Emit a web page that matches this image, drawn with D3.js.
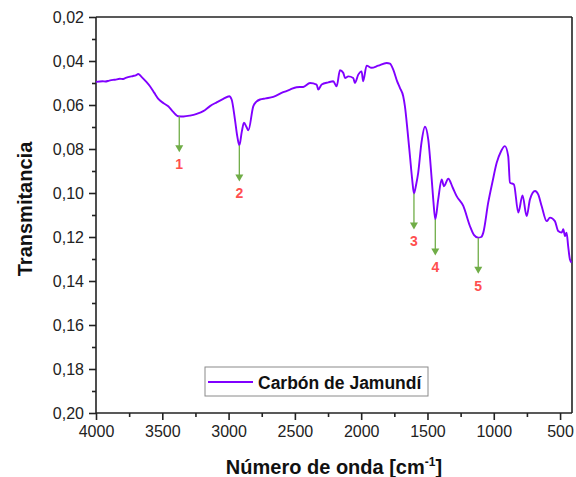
<!DOCTYPE html>
<html>
<head>
<meta charset="utf-8">
<script src="https://cdn.jsdelivr.net/npm/d3@7"></script>
<style>
  html, body { margin: 0; padding: 0; background: #fff; }
  svg { display: block; font-family: Arial, "Liberation Sans", sans-serif; }
</style>
</head>
<body>
<svg id="chart" width="576" height="477"></svg>
<script>
// ---- Data ----
const wavenumbers = [4000, 3950, 3930, 3900, 3870, 3857, 3820, 3800, 3780, 3750, 3720, 3700, 3681, 3660, 3640, 3620, 3593, 3560, 3530, 3490, 3455, 3420, 3379, 3340, 3291, 3240, 3191, 3140, 3090, 3040, 2995, 2977, 2952, 2935, 2919, 2900, 2884, 2865, 2851, 2814, 2790, 2763, 2720, 2663, 2588, 2537, 2487, 2437, 2386, 2336, 2324, 2298, 2248, 2211, 2185, 2160, 2135, 2122, 2097, 2060, 2047, 2022, 1997, 1985, 1959, 1922, 1871, 1808, 1783, 1758, 1730, 1708, 1683, 1670, 1650, 1632, 1615, 1602, 1585, 1570, 1545, 1519, 1494, 1468, 1455, 1441, 1419, 1393, 1376, 1343, 1310, 1280, 1230, 1180, 1150, 1117, 1095, 1079, 1042, 1010, 978, 945, 916, 891, 878, 848, 815, 783, 752, 727, 689, 665, 639, 601, 576, 539, 514, 488, 476, 463, 451, 439, 426, 413];
const transmittance = [0.0495, 0.0492, 0.0493, 0.0489, 0.0486, 0.0485, 0.0481, 0.0482, 0.0478, 0.0472, 0.0468, 0.0465, 0.0459, 0.0470, 0.0482, 0.0495, 0.0515, 0.0545, 0.0572, 0.0592, 0.0606, 0.0630, 0.0651, 0.0652, 0.0648, 0.0640, 0.0628, 0.0605, 0.0588, 0.0572, 0.0560, 0.0575, 0.0666, 0.0740, 0.0784, 0.0720, 0.0681, 0.0700, 0.0715, 0.0606, 0.0585, 0.0575, 0.0570, 0.0563, 0.0542, 0.0530, 0.0519, 0.0518, 0.0500, 0.0507, 0.0530, 0.0507, 0.0497, 0.0492, 0.0515, 0.0442, 0.0454, 0.0477, 0.0470, 0.0477, 0.0500, 0.0462, 0.0447, 0.0492, 0.0421, 0.0431, 0.0421, 0.0409, 0.0412, 0.0439, 0.0490, 0.0522, 0.0560, 0.0606, 0.0720, 0.0833, 0.0940, 0.1002, 0.0960, 0.0908, 0.0770, 0.0699, 0.0757, 0.0938, 0.1040, 0.1120, 0.1029, 0.0938, 0.0969, 0.0935, 0.0975, 0.1014, 0.1059, 0.1150, 0.1190, 0.1203, 0.1200, 0.1180, 0.1044, 0.0950, 0.0863, 0.0810, 0.0787, 0.0833, 0.0953, 0.0961, 0.1089, 0.1011, 0.1105, 0.1029, 0.0991, 0.1006, 0.1059, 0.1128, 0.1112, 0.1128, 0.1173, 0.1180, 0.1165, 0.1196, 0.1180, 0.1241, 0.1301, 0.1316];

const peakLabels = ["1", "2", "3", "4", "5"];
const peakWavenumbers = [3372, 2919, 1602, 1441, 1117];
const peakValues = [0.0651, 0.0784, 0.1002, 0.1120, 0.1203];

const xTicks = [4000, 3500, 3000, 2500, 2000, 1500, 1000, 500];
const xMinorTicks = [3750, 3250, 2750, 2250, 1750, 1250, 750];
const yTicks = [0.02, 0.04, 0.06, 0.08, 0.10, 0.12, 0.14, 0.16, 0.18, 0.20];
const yMinorTicks = [0.03, 0.05, 0.07, 0.09, 0.11, 0.13, 0.15, 0.17, 0.19];

const seriesName = "Carbón de Jamundí";
const yTitle = "Transmitancia";

// ---- Layout ----
const svg = d3.select("#chart");
const pLeft = 96, pRight = 572, pTop = 17, pBottom = 413;
const axisColor = "#222";
const lineColor = "#8000ff";
const arrowColor = "#70ad47";
const labelColor = "#ff4f4f";

const x = d3.scaleLinear().domain([4000, 410]).range([pLeft, pRight]);
const y = d3.scaleLinear().domain([0.02, 0.20]).range([pTop, pBottom]);

const fmt = d => d3.format(".2f")(d).replace(".", ",");

// Frame (top & right)
svg.append("line").attr("x1", pLeft).attr("x2", pRight).attr("y1", pTop).attr("y2", pTop)
  .attr("stroke", axisColor).attr("stroke-width", 1.6);
svg.append("line").attr("x1", pRight).attr("x2", pRight).attr("y1", pTop).attr("y2", pBottom)
  .attr("stroke", axisColor).attr("stroke-width", 1.6);

// Y axis
const yAxis = svg.append("g").attr("transform", `translate(${pLeft},0)`)
  .call(d3.axisLeft(y).tickValues(yTicks).tickFormat(fmt).tickSize(7).tickPadding(5));
const yMinor = svg.append("g").attr("transform", `translate(${pLeft},0)`)
  .call(d3.axisLeft(y).tickValues(yMinorTicks).tickFormat("").tickSize(4));

// X axis
const xAxis = svg.append("g").attr("transform", `translate(0,${pBottom})`)
  .call(d3.axisBottom(x).tickValues(xTicks).tickFormat(d3.format("d")).tickSize(7).tickPadding(6));
const xMinor = svg.append("g").attr("transform", `translate(0,${pBottom})`)
  .call(d3.axisBottom(x).tickValues(xMinorTicks).tickFormat("").tickSize(4));

[yAxis, yMinor, xAxis, xMinor].forEach(g => {
  g.selectAll(".domain").attr("stroke", axisColor).attr("stroke-width", 1.6);
  g.selectAll(".tick line").attr("stroke", axisColor).attr("stroke-width", 1.6);
  g.selectAll(".tick text").attr("fill", "#222").style("font-size", "16px")
    .style("font-family", "Arial, 'Liberation Sans', sans-serif");
});
yAxis.select(".domain").attr("d", `M0,${pTop}V${pBottom}`);
yMinor.select(".domain").remove();
xAxis.select(".domain").attr("d", `M${pLeft},0H${pRight}`);
xMinor.select(".domain").remove();

// Line
const pts = wavenumbers.map((w, i) => [w, transmittance[i]]);
svg.append("path").datum(pts)
  .attr("fill", "none").attr("stroke", lineColor).attr("stroke-width", 1.9)
  .attr("stroke-linejoin", "round")
  .attr("d", d3.line().curve(d3.curveMonotoneX).x(d => x(d[0])).y(d => y(d[1])));

// Peak arrows
const arrowLen = 36;
peakLabels.forEach((lab, i) => {
  const px = x(peakWavenumbers[i]);
  const py = y(peakValues[i]);
  const tip = py + arrowLen;
  svg.append("line").attr("x1", px).attr("x2", px).attr("y1", py).attr("y2", tip - 6)
    .attr("stroke", arrowColor).attr("stroke-width", 1.3);
  svg.append("path")
    .attr("d", `M${px - 4},${tip - 7}L${px + 4},${tip - 7}L${px},${tip}Z`)
    .attr("fill", arrowColor);
  svg.append("text").attr("x", px).attr("y", tip + 17)
    .attr("text-anchor", "middle").attr("fill", labelColor)
    .style("font-size", "14px").style("font-weight", "bold").text(lab);
});

// Legend
svg.append("rect").attr("x", 205).attr("y", 367).attr("width", 223).attr("height", 29)
  .attr("fill", "#fff").attr("stroke", "#8a8a8a").attr("stroke-width", 1);
svg.append("line").attr("x1", 208).attr("x2", 253).attr("y1", 382).attr("y2", 382)
  .attr("stroke", lineColor).attr("stroke-width", 1.8);
svg.append("text").attr("x", 258).attr("y", 388.5).attr("fill", "#111")
  .style("font-size", "17.5px").style("font-weight", "bold").text(seriesName);

// Axis titles
const xt = svg.append("text").attr("x", (pLeft + pRight) / 2).attr("y", 474)
  .attr("text-anchor", "middle").attr("fill", "#111")
  .style("font-size", "20px").style("font-weight", "bold");
xt.append("tspan").text("Número de onda [cm");
xt.append("tspan").attr("dy", -8).style("font-size", "12px").text("-1");
xt.append("tspan").attr("dy", 8).text("]");

svg.append("text").attr("transform", "translate(32,209) rotate(-90)")
  .attr("text-anchor", "middle").attr("fill", "#111")
  .style("font-size", "20px").style("font-weight", "bold").text(yTitle);
</script>
</body>
</html>
